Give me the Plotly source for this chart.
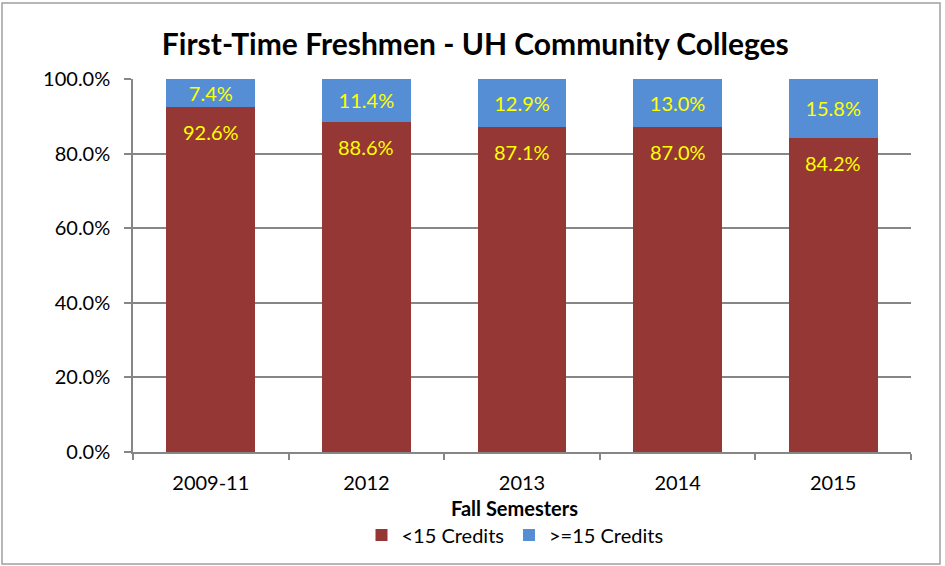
import plotly.graph_objects as go

categories = ["2009-11", "2012", "2013", "2014", "2015"]
under15 = [92.6, 88.6, 87.1, 87.0, 84.2]
over15 = [7.4, 11.4, 12.9, 13.0, 15.8]
series_names = ["<15 Credits", ">=15 Credits"]
y_ticks = [0, 20, 40, 60, 80, 100]

RED = "#953735"
BLUE = "#558ED5"
YELLOW = "#FFFF00"
FONT = "Lato"

W, H = 945, 566
L, R, T, B = 133, 34, 79, 114
pw, ph = W - L - R, H - T - B

fig = go.Figure()
fig.add_bar(x=categories, y=under15, name=series_names[0], marker_color=RED,
            marker_line_width=0, textposition="none")
fig.add_bar(x=categories, y=over15, name=series_names[1], marker_color=BLUE,
            marker_line_width=0,
            text=[f"{v:.1f}%" for v in over15], textposition="inside",
            insidetextanchor="middle", textangle=0, constraintext="none",
            insidetextfont=dict(color=YELLOW, size=20, family=FONT))

for i, v in enumerate(under15):
    fig.add_annotation(x=i, y=v, text=f"{v:.1f}%", showarrow=False,
                       yanchor="top", yshift=-11,
                       font=dict(color=YELLOW, size=20, family=FONT))

fig.add_annotation(x=0.491, y=(452 - 508) / ph, xref="paper", yref="paper",
                   text="<b>Fall Semesters</b>", showarrow=False,
                   yanchor="middle", font=dict(size=20, family=FONT, color="#000"))

# outer chart frame
fig.add_shape(type="rect", xref="paper", yref="paper",
              x0=(2 - L) / pw, x1=(940 - L) / pw,
              y0=(452 - 564) / ph, y1=(452 - 3) / ph,
              line=dict(color="#A0A0A0", width=1.5), layer="below")

fig.update_layout(
    width=W, height=H,
    margin=dict(l=L, r=R, t=T, b=B),
    paper_bgcolor="white", plot_bgcolor="white",
    barmode="stack", bargap=0.43,
    font=dict(family=FONT, size=20, color="#000"),
    title=dict(text="<b>First-Time Freshmen - UH Community Colleges</b>",
               x=0.503, xanchor="center", y=1 - 44 / H, yanchor="middle",
               font=dict(size=30, family=FONT, color="#000")),
    showlegend=True,
    legend=dict(orientation="h", x=0.491, xanchor="center",
                y=(452 - 535) / ph, yanchor="middle",
                font=dict(size=20, family=FONT), traceorder="normal"),
)
fig.update_xaxes(type="category", range=[-0.5, len(categories) - 0.5],
                 showline=True, linecolor="#868686", linewidth=1.5,
                 ticks="outside", tickson="boundaries", ticklen=6,
                 tickcolor="#868686", tickwidth=1.5, ticklabelstandoff=12,
                 tickangle=0, showgrid=False)
fig.update_yaxes(range=[0, 100], tickvals=y_ticks,
                 ticktext=[f"{v:.1f}%" for v in y_ticks],
                 showline=True, linecolor="#868686", linewidth=1.5,
                 ticks="outside", ticklen=7, tickcolor="#868686", tickwidth=1.5,
                 showgrid=True, gridcolor="#868686", gridwidth=1.5,
                 zeroline=False, ticklabelstandoff=10)

fig.write_html("out.html", config={"displayModeBar": False},
               post_script="document.body.style.margin='0px';document.body.style.overflow='hidden';")
